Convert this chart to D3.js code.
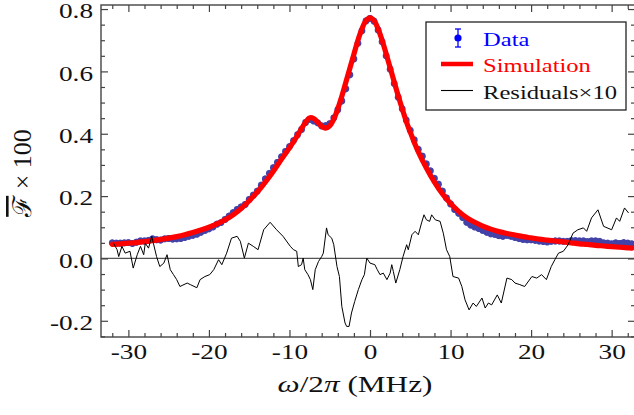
<!DOCTYPE html>
<html>
<head>
<meta charset="utf-8">
<script src="https://cdn.jsdelivr.net/npm/d3@7"></script>
<style>
body{margin:0;background:#fff;}
text{font-family:"Liberation Serif","DejaVu Serif",serif;}
</style>
</head>
<body>
<svg width="634" height="415"></svg>
<script>
// measured points (blue), 0.5 MHz apart
const dataX = [-32,-31.5,-31,-30.5,-30,-29.5,-29,-28.5,-28,-27.5,-27,-26.5,-26,-25.5,-25,-24.5,-24,-23.5,-23,-22.5,-22,-21.5,-21,-20.5,-20,-19.5,-19,-18.5,-18,-17.5,-17,-16.5,-16,-15.5,-15,-14.5,-14,-13.5,-13,-12.5,-12,-11.5,-11,-10.5,-10,-9.5,-9,-8.5,-8,-7.5,-7,-6.5,-6,-5.5,-5,-4.5,-4,-3.5,-3,-2.5,-2,-1.5,-1,-0.5,0,0.5,1,1.5,2,2.5,3,3.5,4,4.5,5,5.5,6,6.5,7,7.5,8,8.5,9,9.5,10,10.5,11,11.5,12,12.5,13,13.5,14,14.5,15,15.5,16,16.5,17,17.5,18,18.5,19,19.5,20,20.5,21,21.5,22,22.5,23,23.5,24,24.5,25,25.5,26,26.5,27,27.5,28,28.5,29,29.5,30,30.5,31,31.5,32,32.5];
const dataY = [0.050,0.049,0.049,0.050,0.051,0.048,0.052,0.056,0.056,0.058,0.063,0.060,0.059,0.063,0.064,0.062,0.063,0.064,0.067,0.071,0.074,0.078,0.084,0.090,0.095,0.101,0.110,0.115,0.125,0.136,0.147,0.157,0.165,0.173,0.189,0.203,0.216,0.235,0.255,0.273,0.291,0.308,0.326,0.343,0.359,0.378,0.397,0.414,0.436,0.446,0.441,0.435,0.425,0.426,0.432,0.451,0.477,0.505,0.544,0.589,0.640,0.690,0.730,0.762,0.770,0.761,0.733,0.695,0.650,0.607,0.561,0.517,0.480,0.444,0.411,0.380,0.350,0.328,0.303,0.281,0.257,0.238,0.216,0.194,0.175,0.157,0.145,0.131,0.116,0.107,0.101,0.096,0.090,0.084,0.079,0.077,0.073,0.071,0.074,0.071,0.067,0.064,0.061,0.060,0.060,0.058,0.056,0.054,0.053,0.055,0.056,0.056,0.055,0.055,0.057,0.057,0.056,0.056,0.054,0.056,0.056,0.055,0.050,0.049,0.047,0.050,0.048,0.051,0.049,0.047];
const dataErr = 0.011;

// simulation (red)
const simX = [-32,-31,-30,-29,-28,-27,-26,-25,-24,-23,-22,-21,-20,-19,-18,-17,-16,-15,-14,-13,-12,-11,-10,-9,-8,-7.5,-7,-6.5,-6,-5.5,-5,-4.5,-4,-3.5,-3,-2.5,-2,-1.5,-1,-0.5,0,0.5,1,1.5,2,2.5,3,3.5,4,4.5,5,5.5,6,7,8,9,10,11,12,13,14,15,16,17,18,19,20,21,22,23,24,25,26,27,28,29,30,31,32,32.5];
const simY = [0.045,0.047,0.049,0.051,0.054,0.057,0.061,0.065,0.070,0.076,0.083,0.091,0.100,0.111,0.124,0.140,0.160,0.185,0.213,0.245,0.280,0.318,0.355,0.395,0.437,0.451,0.449,0.437,0.424,0.418,0.425,0.447,0.480,0.520,0.565,0.610,0.655,0.700,0.737,0.763,0.772,0.763,0.737,0.700,0.657,0.612,0.567,0.522,0.480,0.440,0.405,0.372,0.342,0.290,0.245,0.207,0.176,0.151,0.131,0.116,0.104,0.094,0.086,0.080,0.075,0.070,0.066,0.062,0.059,0.056,0.053,0.050,0.047,0.045,0.042,0.040,0.038,0.036,0.034,0.033];

// residuals x10 (black)
const resX = [-31.85,-31.4,-31.2,-30.8,-30.4,-29.8,-29.4,-28.9,-28.5,-28.1,-27.9,-27.5,-27.1,-26.9,-26.5,-26.1,-25.6,-25.2,-24.8,-24.4,-24.0,-23.6,-22.7,-22.3,-21.5,-21.1,-20.5,-19.9,-19.4,-18.8,-18.4,-17.8,-17.2,-16.5,-16.1,-15.6,-15.1,-14.5,-13.9,-13.2,-12.4,-11.6,-10.8,-9.9,-9.5,-9.1,-8.9,-8.5,-8.3,-8.1,-7.7,-7.4,-7.1,-6.8,-6.4,-6.0,-5.8,-5.4,-5.2,-4.75,-4.5,-4.1,-3.8,-3.5,-3.1,-2.9,-2.6,-2.3,-1.9,-1.45,-1.0,-0.7,-0.4,0.0,0.6,0.9,1.24,1.65,2.1,2.5,2.7,2.9,3.2,3.7,4.1,4.55,4.75,5.2,5.6,6.0,6.4,6.7,7.0,7.4,7.65,8.1,8.7,9.1,9.5,9.9,10.3,11.0,11.4,11.8,12.3,12.8,13.2,13.9,14.3,14.7,15.1,15.8,16.3,17.0,17.6,18.0,18.6,19.2,20.1,20.7,21.3,21.9,22.5,22.95,23.4,24.0,24.6,25.2,25.8,26.5,26.9,27.5,28.3,29.0,30.0,30.6,31.0,31.6,32.1];
const resY = [0.049,0.028,0.006,0.039,0.017,0.023,-0.031,0.012,0.039,0.012,0.049,0.033,0.071,0.049,0.006,-0.026,-0.015,0.012,-0.036,-0.052,-0.068,-0.090,-0.079,-0.084,-0.094,-0.068,-0.058,-0.052,-0.036,-0.004,-0.020,0.017,0.065,0.071,0.055,0.001,0.049,0.039,0.028,0.092,0.116,0.092,0.071,0.039,0.028,0.023,-0.026,-0.020,0.001,-0.036,-0.052,-0.068,-0.100,-0.036,-0.010,0.006,0.017,0.098,0.076,0.065,0.044,-0.026,-0.058,-0.154,-0.207,-0.218,-0.218,-0.175,-0.138,-0.100,-0.068,-0.052,0.001,-0.015,-0.020,-0.036,-0.052,-0.047,-0.068,-0.047,-0.020,-0.042,-0.079,-0.036,0.006,0.044,0.028,0.076,0.087,0.076,0.114,0.140,0.124,0.119,0.140,0.124,0.119,0.081,0.028,0.006,-0.058,-0.063,-0.090,-0.133,-0.165,-0.143,-0.154,-0.127,-0.159,-0.143,-0.149,-0.117,-0.143,-0.063,-0.068,-0.079,-0.084,-0.090,-0.058,-0.063,-0.052,-0.068,-0.026,-0.004,0.017,0.023,0.044,0.081,0.092,0.098,0.087,0.130,0.156,0.103,0.092,0.130,0.119,0.162,0.146];

// ticks
const xMajor = [-30,-20,-10,0,10,20,30];
const xMinor = [-32,-28,-26,-24,-22,-18,-16,-14,-12,-8,-6,-4,-2,2,4,6,8,12,14,16,18,22,24,26,28,32];
const yMajor = [-0.2,0,0.2,0.4,0.6,0.8];
const yMinor = [-0.25,-0.15,-0.1,-0.05,0.05,0.1,0.15,0.25,0.3,0.35,0.45,0.5,0.55,0.65,0.7,0.75];

const svg = d3.select('svg');
const pLeft = 101, pRight = 635, pTop = 5, pBottom = 337;
const sx = 1.33; // picture is stretched sideways, text too

const x = d3.scaleLinear().domain([-33.4, 32.9]).range([pLeft, pRight]);
const y = d3.scaleLinear().domain([-0.252, 0.813]).range([pBottom, pTop]);

// zero line
svg.append('line')
    .attr('x1', pLeft).attr('x2', pRight)
    .attr('y1', y(0)).attr('y2', y(0))
    .attr('stroke', '#555').attr('stroke-width', 1.2);

// axes, ticks pointing inwards on all 4 sides
function styleAxis(g) {
    g.select('.domain').remove();
    g.selectAll('line').attr('stroke', '#444').attr('stroke-width', 1.2);
    g.selectAll('text').attr('font-size', 20.5).attr('fill', '#111')
        .attr('font-family', '"Liberation Serif", serif');
}
svg.append('g').attr('transform', `translate(0,${pBottom})`)
    .call(d3.axisBottom(x).tickValues(xMajor).tickSize(-7).tickPadding(7).tickFormat(d => String(d)))
    .call(styleAxis)
    .selectAll('text').attr('transform', `scale(${sx},1)`);
svg.append('g').attr('transform', `translate(0,${pBottom})`)
    .call(d3.axisBottom(x).tickValues(xMinor).tickSize(-4).tickFormat(''))
    .call(styleAxis);
svg.append('g').attr('transform', `translate(0,${pTop})`)
    .call(d3.axisTop(x).tickValues(xMajor).tickSize(-7).tickFormat(''))
    .call(styleAxis);
svg.append('g').attr('transform', `translate(0,${pTop})`)
    .call(d3.axisTop(x).tickValues(xMinor).tickSize(-4).tickFormat(''))
    .call(styleAxis);
svg.append('g').attr('transform', `translate(${pLeft},0)`)
    .call(d3.axisLeft(y).tickValues(yMajor).tickSize(-7).tickPadding(6).tickFormat(d => d.toFixed(1)))
    .call(styleAxis)
    .selectAll('text').attr('dy', '0.42em').attr('transform', `scale(${sx},1)`);
svg.append('g').attr('transform', `translate(${pLeft},0)`)
    .call(d3.axisLeft(y).tickValues(yMinor).tickSize(-4).tickFormat(''))
    .call(styleAxis);
svg.append('g').attr('transform', `translate(${pRight},0)`)
    .call(d3.axisRight(y).tickValues(yMajor).tickSize(-7).tickFormat(''))
    .call(styleAxis);
svg.append('g').attr('transform', `translate(${pRight},0)`)
    .call(d3.axisRight(y).tickValues(yMinor).tickSize(-4).tickFormat(''))
    .call(styleAxis);

// frame
svg.append('rect')
    .attr('x', pLeft).attr('y', pTop)
    .attr('width', pRight - pLeft).attr('height', pBottom - pTop)
    .attr('fill', 'none').attr('stroke', '#444').attr('stroke-width', 1.4);

// data points with error bars
const pts = dataX.map((d, i) => ({x: d, y: dataY[i]}));
const dataG = svg.append('g');
dataG.selectAll('line.err').data(pts).enter().append('line')
    .attr('x1', d => x(d.x)).attr('x2', d => x(d.x))
    .attr('y1', d => y(d.y - dataErr)).attr('y2', d => y(d.y + dataErr))
    .attr('stroke', '#6464be').attr('stroke-width', 2.2);
dataG.selectAll('circle').data(pts).enter().append('circle')
    .attr('cx', d => x(d.x)).attr('cy', d => y(d.y))
    .attr('r', 3.4)
    .attr('fill', '#4242a8');

// simulation
const simLine = d3.line().x(d => x(d[0])).y(d => y(d[1])).curve(d3.curveCatmullRom);
svg.append('path')
    .attr('d', simLine(simX.map((d, i) => [d, simY[i]])))
    .attr('fill', 'none').attr('stroke', '#ff0000').attr('stroke-width', 5.2)
    .attr('stroke-linecap', 'round');

// residuals
const resLine = d3.line().x(d => x(d[0])).y(d => y(d[1]));
svg.append('path')
    .attr('d', resLine(resX.map((d, i) => [d, resY[i]])))
    .attr('fill', 'none').attr('stroke', '#000').attr('stroke-width', 1);

// axis titles
const xt = svg.append('text')
    .attr('transform', `translate(355,392) scale(${sx},1)`)
    .attr('text-anchor', 'middle').attr('font-size', 23.5).attr('fill', '#111');
xt.append('tspan').attr('font-style', 'italic').text('ω');
xt.append('tspan').text('/2');
xt.append('tspan').attr('font-style', 'italic').text('π');
xt.append('tspan').text(' (MHz)');

const yt = svg.append('text')
    .attr('transform', 'translate(31,173) rotate(-90)')
    .attr('text-anchor', 'middle').attr('font-size', 26).attr('fill', '#111');
yt.append('tspan').attr('style', 'text-decoration: overline').text('ℱ');
yt.append('tspan').text(' × 100');

// legend
const lg = svg.append('g');
lg.append('rect')
    .attr('x', 426).attr('y', 22).attr('width', 200).attr('height', 88)
    .attr('fill', '#fff').attr('stroke', '#222').attr('stroke-width', 1.3);
lg.append('line').attr('x1', 458).attr('x2', 458).attr('y1', 29).attr('y2', 47)
    .attr('stroke', '#0000ff').attr('stroke-width', 1.3);
lg.append('line').attr('x1', 455).attr('x2', 461).attr('y1', 29).attr('y2', 29)
    .attr('stroke', '#0000ff').attr('stroke-width', 1.3);
lg.append('line').attr('x1', 455).attr('x2', 461).attr('y1', 47).attr('y2', 47)
    .attr('stroke', '#0000ff').attr('stroke-width', 1.3);
lg.append('circle').attr('cx', 458).attr('cy', 38).attr('r', 3.6).attr('fill', '#0000ff');
lg.append('line').attr('x1', 441).attr('x2', 473).attr('y1', 64).attr('y2', 64)
    .attr('stroke', '#ff0000').attr('stroke-width', 4.5);
lg.append('line').attr('x1', 441).attr('x2', 473).attr('y1', 90.5).attr('y2', 90.5)
    .attr('stroke', '#000').attr('stroke-width', 1.1);

const legendText = [['Data', '#0000ff', 46], ['Simulation', '#ff0000', 72], ['Residuals×10', '#111', 98.5]];
legendText.forEach(t => {
    lg.append('text')
        .attr('transform', `translate(483,${t[2]}) scale(${sx},1)`)
        .attr('font-size', 18.5).attr('fill', t[1])
        .text(t[0]);
});
</script>
</body>
</html>
